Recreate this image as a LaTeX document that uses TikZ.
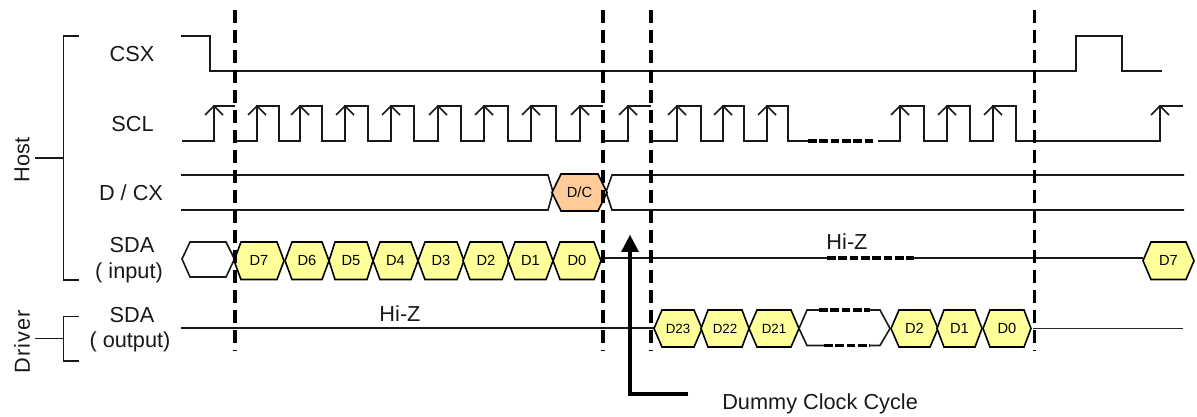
\documentclass[tikz,border=0pt]{standalone}
\usepackage{fontspec}
\setmainfont{Liberation Sans}
\definecolor{hexy}{HTML}{FFFF99}
\definecolor{hexo}{HTML}{FFCC99}
\tikzset{
  wave/.style={line width=1.2pt,black!90,line join=miter},
  thin wave/.style={line width=0.75pt,black!85},
  sep/.style={line width=2.4pt,black,dash pattern=on 10pt off 5pt},
  gap/.style={line width=2.3pt,black,dash pattern=on 6.5pt off 2pt},
  lab/.style={font=\fontsize{16.3}{18}\selectfont,inner sep=0pt,text=black!90},
  hexlab/.style={font=\fontsize{11}{13}\selectfont,inner sep=0pt},
  hexlabs/.style={font=\fontsize{10}{12}\selectfont,inner sep=0pt},
  hexline/.style={line width=1.2pt,black,line join=miter},
  big arrow/.style={line width=2.5pt,black},
}
% name, left tip, flat left, flat right, right tip, top, bottom, fill, label style, text
\newcommand{\hexcell}[9]{%
  \draw[hexline,fill=#7] (#2,{(#5+#6)/2}) -- (#3,#5) -- (#4,#5) -- ({#4+(#3-#2)},{(#5+#6)/2}) -- (#4,#6) -- (#3,#6) -- cycle;
  \node[#8] (#1) at ({(#2+#4+(#3-#2))/2},{(#5+#6)/2}) {#9};
}
\begin{document}
\begin{tikzpicture}[x=0.75pt,y=-0.75pt]
\useasboundingbox (0,0) rectangle (1197,417);
% labels
\node[lab] (csx) at (132,54) {CSX};
\node[lab] (scl) at (132.5,124) {SCL};
\node[lab] (dcx) at (131,193) {D / CX};
\node[lab] (sdai) at (132,245) {SDA};
\node[lab] (inp) at (129,273) {( input)};
\node[lab] (sdao) at (132,315) {SDA};
\node[lab] (outp) at (130,342) {( output)};
\node[lab,rotate=90] (host) at (22,160) {Host};
\node[lab,rotate=90] (driver) at (22,342) {\addfontfeature{LetterSpace=5}Driver};
\node[lab] (hiz1) at (400,314) {Hi-Z};
\node[lab] (hiz2) at (847,242) {Hi-Z};
\node[lab,anchor=base west] (dummy) at (722,409) {Dummy Clock Cycle};
% brackets
\coordinate (hb) at (63.5,158);
\coordinate (db) at (63.5,338.5);
\draw[wave] (79,36) -| (63.5,280) -- (79,280);
\draw[wave] (35,158) -- (hb);
\draw[wave] (79,316.5) -| (63.5,361) -- (79,361);
\draw[wave] (35,338.5) -- (db);
% CSX
\draw[wave] (181,36) -| (210,71) -| (1076,36) -| (1122,71) -- (1162,71);
% SCL
\draw[wave] (182,141) -| (214,106) -- (235,106);
\draw[wave] (236,141) -| (257,106) -| (279,141) -| (300,106) -| (322,141) -| (345,106) -| (368,141)
  -| (391,106) -| (414,141) -| (438,106) -| (461,141) -| (484,106) -| (508,141) -| (531,106) -| (556,141) -| (580,106) -- (603,106);
\draw[wave] (603,141) -| (628,106) -- (651,106);
\draw[wave] (652,141) -| (677,106) -| (701,141) -| (723,106) -| (744,141) -| (767,106) -| (788,141) -- (808,141);
\draw[gap] (808,141) -- (875,141);
\draw[wave] (878,141) -| (900,106) -| (924,141) -| (947,106) -| (970,141) -| (993,106) -| (1016,141) -| (1160,106) -- (1183,106);
\foreach \x in {214,257,300,345,391,438,484,531,580,628,677,723,767,900,947,993,1160}
  \draw[wave] (\x-9,115) -- (\x,106) -- (\x+9,115);
% D/CX
\draw[wave] (181,175) -- (548,175) -- (553,192) -- (548,210) -- (181,210);
\draw[wave] (1184,175) -- (612,175) -- (606,192) -- (612,210) -- (1184,210);
\hexcell{dc}{552}{561}{598}{174}{211}{hexo}{hexlab}{D/C}
% SDA input
\draw[wave,fill=white] (182,259) -- (190,242) -- (226,242) -- (234.5,259) -- (226,277) -- (190,277) -- cycle;
\hexcell{i7}{234}{241}{277}{242}{279.5}{hexy}{hexlab}{D7}
\hexcell{i6}{285}{292}{322}{242}{279.5}{hexy}{hexlab}{D6}
\hexcell{i5}{329}{335}{367}{242}{279.5}{hexy}{hexlab}{D5}
\hexcell{i4}{373}{380}{411}{242}{279.5}{hexy}{hexlab}{D4}
\hexcell{i3}{418}{425}{457}{242}{279.5}{hexy}{hexlab}{D3}
\hexcell{i2}{463}{470}{502}{242}{279.5}{hexy}{hexlab}{D2}
\hexcell{i1}{508}{515}{546}{242}{279.5}{hexy}{hexlab}{D1}
\hexcell{i0}{553}{560}{594}{242}{279.5}{hexy}{hexlab}{D0}
\hexcell{il}{1143}{1151}{1186}{242}{279.5}{hexy}{hexlab}{D7}
\draw[wave] (602,258) -- (827,258);
\draw[wave] (914,258) -- (1143,258);
\draw[gap] (827,258) -- (914,258);
% SDA output
\draw[wave] (181,328) -- (654,328);
\hexcell{o23}{654}{662}{694}{310}{347}{hexy}{hexlabs}{D23}
\hexcell{o22}{701}{708}{742}{310}{347}{hexy}{hexlabs}{D22}
\hexcell{o21}{749}{757}{791}{310}{347}{hexy}{hexlabs}{D21}
\draw[wave] (819,310) -- (807,310) -- (799,328.5) -- (807,345.5) -- (824,345.5);
\draw[wave] (870,310) -- (880,310) -- (890,328.5) -- (880,345.5) -- (870,345.5);
\draw[gap] (819,310) -- (870,310);
\draw[gap] (824,345.5) -- (870,345.5);
\hexcell{o2}{891}{899}{930}{310}{347}{hexy}{hexlab}{D2}
\hexcell{o1}{937}{944}{975}{310}{347}{hexy}{hexlab}{D1}
\hexcell{o0}{983}{990}{1024}{310}{347}{hexy}{hexlab}{D0}
\draw[thin wave] (1033,328) -- (1183,328);
% separators
\foreach \x in {235,603,651,1034.5}
  \draw[sep] (\x,10) -- (\x,351);
% dummy arrow
\coordinate (dummystart) at (688,394);
\coordinate (dummycorner) at (630,394);
\draw[big arrow] (dummystart) -- (dummycorner) -- (630,250);
\fill[black] (630,235) -- (639,252) -- (621,252) -- cycle;
\end{tikzpicture}
\end{document}
